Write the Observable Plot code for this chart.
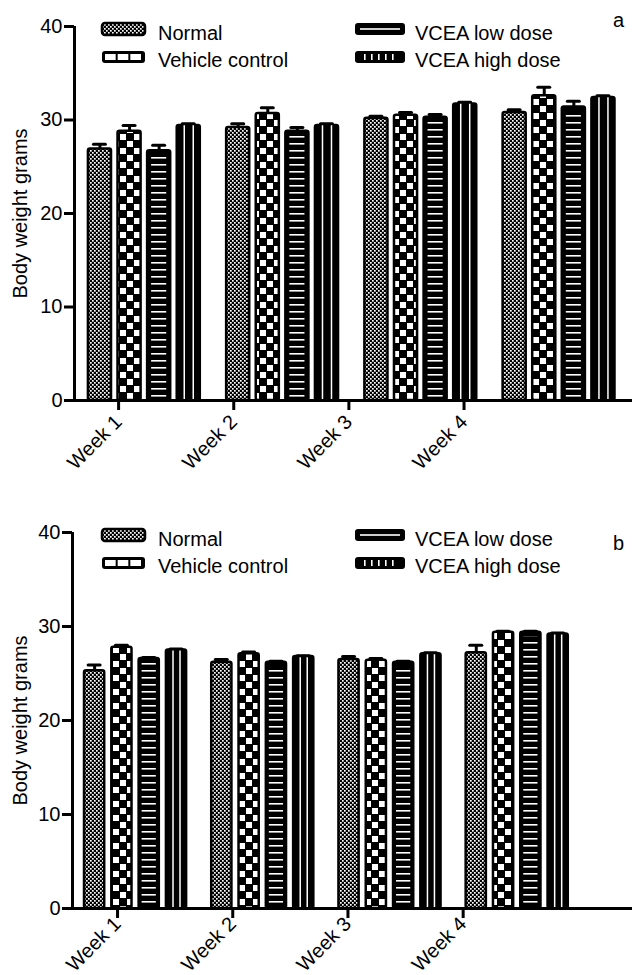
<!DOCTYPE html>
<html>
<head>
<meta charset="utf-8">
<script src="https://cdn.jsdelivr.net/npm/d3@7"></script>
<script src="https://cdn.jsdelivr.net/npm/@observablehq/plot@0.6"></script>
<style>
  body { margin: 0; background: white; font-family: "Liberation Sans", Arial, sans-serif; }
  .panel { position: relative; width: 632px; }
  .overlay { position: absolute; left: 0; top: 0; pointer-events: none; }
</style>
</head>
<body>
<svg width="0" height="0" style="position:absolute">
  <defs>
    <pattern id="pFine" width="4" height="4" patternUnits="userSpaceOnUse">
      <rect width="4" height="4" fill="#000"/>
      <rect width="1.7" height="1.7" fill="#fff"/>
      <rect x="2" y="2" width="1.7" height="1.7" fill="#fff"/>
    </pattern>
    <pattern id="pCheck" width="14" height="14" patternUnits="userSpaceOnUse">
      <rect width="14" height="14" fill="#000"/>
      <rect x="1" y="1" width="6" height="6" fill="#fff"/>
      <rect x="8" y="8" width="6" height="6" fill="#fff"/>
    </pattern>
    <pattern id="pH" width="10" height="7" patternUnits="userSpaceOnUse">
      <rect y="3" width="10" height="1.6" fill="#fff"/>
    </pattern>
  </defs>
</svg>
<div id="a" class="panel"></div>
<div id="b" class="panel"></div>
<script>
// ---------- data ----------
const weeks = ["Week 1", "Week 2", "Week 3", "Week 4"];
const groups = ["Normal", "Vehicle control", "VCEA low dose", "VCEA high dose"];
const yTicks = [0, 10, 20, 30, 40];

// Panel a
const aNormal = [26.9, 29.2, 30.2, 30.8];
const aNormalSem = [0.5, 0.4, 0.2, 0.3];
const aVehicle = [28.8, 30.7, 30.5, 32.6];
const aVehicleSem = [0.6, 0.6, 0.3, 0.9];
const aLow = [26.7, 28.8, 30.3, 31.4];
const aLowSem = [0.6, 0.4, 0.3, 0.6];
const aHigh = [29.4, 29.4, 31.7, 32.4];
const aHighSem = [0.2, 0.2, 0.2, 0.2];

// Panel b
const bNormal = [25.3, 26.2, 26.5, 27.2];
const bNormalSem = [0.6, 0.3, 0.3, 0.8];
const bVehicle = [27.8, 27.1, 26.4, 29.4];
const bVehicleSem = [0.2, 0.2, 0.2, 0.1];
const bLow = [26.6, 26.2, 26.2, 29.4];
const bLowSem = [0.1, 0.1, 0.1, 0.1];
const bHigh = [27.5, 26.8, 27.1, 29.2];
const bHighSem = [0.1, 0.1, 0.1, 0.1];

// ---------- drawing ----------
const FONT = '"Liberation Sans", Arial, sans-serif';

function drawPanel(el, series, cfg) {
  const rows = [];
  series.forEach((s, gi) => s.mean.forEach((m, wi) => {
    const x1 = cfg.start + wi * cfg.gpitch + gi;
    rows.push({gi, wi, mean: m, sem: s.sem[wi], x1, x2: x1 + cfg.bw, xc: x1 + cfg.bw / 2});
  }));
  const by = gi => rows.filter(r => r.gi === gi);
  const tickPos = weeks.map((w, i) => cfg.tick0 + i * cfg.tickStep);
  const labelOf = new Map(tickPos.map((t, i) => [t, weeks[i]]));
  const capHalf = 6 / cfg.unit;
  const xmax = (632 - cfg.left) / cfg.unit;
  const barOpts = {x1: "x1", x2: "x2", y1: 0, y2: "mean", stroke: "black", strokeWidth: 2.5, rx: 2};

  const plot = Plot.plot({
    width: 632,
    height: cfg.height,
    marginTop: 26,
    marginBottom: cfg.height - cfg.zeroY,
    marginLeft: cfg.left,
    marginRight: 0,
    style: {fontFamily: FONT, fontSize: "20px", background: "white", color: "black", overflow: "visible"},
    x: {type: "linear", domain: [0, xmax]},
    y: {domain: [0, 40]},
    marks: [
      Plot.rect(by(0), {...barOpts, fill: "url(#pFine)"}),
      Plot.rect(by(1), {...barOpts, fill: "url(#pCheck)"}),
      Plot.rect(by(2), {...barOpts, fill: "black"}),
      Plot.rect(by(2), {x1: "x1", x2: "x2", y1: 0, y2: "mean", fill: "url(#pH)", insetLeft: cfg.hInset, insetRight: cfg.hInset, insetTop: 5, insetBottom: 2}),
      Plot.rect(by(3), {...barOpts, fill: "black"}),
      Plot.ruleX(by(3), {x: "xc", y1: 0, y2: "mean", dx: -cfg.vOff, stroke: "white", strokeWidth: 1.5, insetTop: 5, insetBottom: 2}),
      Plot.ruleX(by(3), {x: "xc", y1: 0, y2: "mean", dx: cfg.vOff, stroke: "white", strokeWidth: 1.5, insetTop: 5, insetBottom: 2}),
      // error bars
      Plot.ruleX(rows, {x: "xc", y1: "mean", y2: d => d.mean + d.sem, stroke: "black", strokeWidth: 3}),
      Plot.ruleY(rows, {y: d => d.mean + d.sem, x1: d => d.xc - capHalf, x2: d => d.xc + capHalf, stroke: "black", strokeWidth: 3, strokeLinecap: "round"}),
      // axes
      Plot.ruleX([0], {y1: 0, y2: 40, stroke: "black", strokeWidth: 3}),
      Plot.ruleY([0], {stroke: "black", strokeWidth: 3}),
      Plot.axisY({ticks: yTicks, tickSize: 10, tickPadding: 2, strokeWidth: 3, fontSize: 20,
        label: "Body weight grams", labelAnchor: "center", labelOffset: cfg.labelOffset, labelArrow: "none"}),
      Plot.axisX({ticks: tickPos, tickFormat: d => labelOf.get(d), tickSize: 10, strokeWidth: 3,
        tickRotate: -45, fontSize: 20, label: null, tickPadding: cfg.xPad})
    ]
  });
  el.appendChild(plot);

  // legend overlay
  const ov = d3.select(el).append("svg")
    .attr("class", "overlay").attr("width", 632).attr("height", cfg.height)
    .style("font-family", FONT).style("font-size", "20px");
  const cols = [{sx: 102, sw: 43, tx: 158}, {sx: 355, sw: 50, tx: 415}];
  const rowsL = [{sy: 23, base: 40}, {sy: 51, base: 67}];
  const order = [[0, 0], [1, 0], [0, 1], [1, 1]]; // [row, col] for each group
  groups.forEach((g, gi) => {
    const [r, c] = order[gi];
    const C = cols[c], R = rowsL[r];
    const sh = 12;
    const gEl = ov.append("g");
    if (gi === 0) {
      gEl.append("rect").attr("x", C.sx).attr("y", R.sy).attr("width", C.sw).attr("height", sh)
        .attr("rx", 3).attr("fill", "url(#pFine)").attr("stroke", "black").attr("stroke-width", 2.5);
    } else {
      gEl.append("rect").attr("x", C.sx).attr("y", R.sy).attr("width", C.sw).attr("height", sh)
        .attr("rx", 3).attr("fill", "black");
      if (gi === 1) {
        const n = 3, w = (C.sw - 8) / n;
        for (let k = 0; k < n; k++) {
          gEl.append("rect").attr("x", C.sx + 3 + k * (w + 1)).attr("y", R.sy + 3)
            .attr("width", w - 1).attr("height", sh - 6).attr("fill", "white");
        }
      } else if (gi === 2) {
        gEl.append("rect").attr("x", C.sx + 5).attr("y", R.sy + sh / 2 - 0.8)
          .attr("width", C.sw - 10).attr("height", 1.6).attr("fill", "white");
      } else {
        for (let k = 0; k < 5; k++) {
          gEl.append("rect").attr("x", C.sx + 9 + k * 7).attr("y", R.sy + 3)
            .attr("width", 1.6).attr("height", sh - 6).attr("fill", "white");
        }
      }
    }
    gEl.append("text").attr("x", C.tx).attr("y", R.base).text(g);
  });
  ov.append("text").attr("x", 613).attr("y", cfg.letterY).text(cfg.letter);
}

drawPanel(document.getElementById("a"), [
  {mean: aNormal, sem: aNormalSem},
  {mean: aVehicle, sem: aVehicleSem},
  {mean: aLow, sem: aLowSem},
  {mean: aHigh, sem: aHighSem}
], {left: 74, unit: 29.6, start: 0.47, gpitch: 4.67, bw: 0.78, tick0: 1.49, tickStep: 3.89,
    zeroY: 400, height: 506, hInset: 4, vOff: 4.5, labelOffset: 62, letter: "a", letterY: 27, xPad: 8});

drawPanel(document.getElementById("b"), [
  {mean: bNormal, sem: bNormalSem},
  {mean: bVehicle, sem: bVehicleSem},
  {mean: bLow, sem: bLowSem},
  {mean: bHigh, sem: bHighSem}
], {left: 72, unit: 27.3, start: 0.44, gpitch: 4.66, bw: 0.74, tick0: 1.65, tickStep: 4.22,
    zeroY: 402, height: 469, hInset: 3, vOff: 3.5, labelOffset: 60, letter: "b", letterY: 44, xPad: 2});
</script>
</body>
</html>
